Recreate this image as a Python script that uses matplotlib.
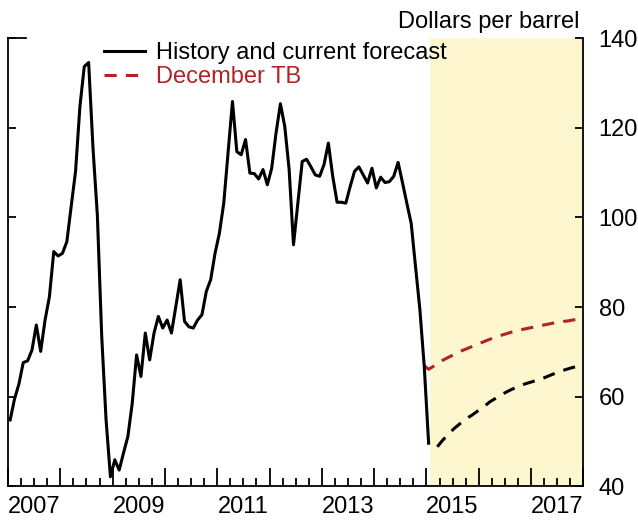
"""
Brent oil price: history and current forecast vs December TB
"""

import numpy as np
import pandas as pd
import matplotlib
matplotlib.use('Agg')
import matplotlib.pyplot as plt
from matplotlib.ticker import MultipleLocator

plt.rcParams['font.family'] = ['Liberation Sans', 'DejaVu Sans']

# monthly history, Jan 2007 .. Jan 2015 (dollars per barrel)
hist_start = '2007-01'
hist_vals = [
    54.8, 59.5, 62.8, 67.6, 68.0, 70.4, 76.0, 70.1, 77.1, 82.3, 92.4, 91.4,      # 2007
    92.0, 94.6, 102.5, 110.3, 124.8, 133.7, 134.6, 115.5, 100.5, 73.5, 54.8, 42.1,  # 2008
    45.9, 43.6, 47.4, 51.1, 58.5, 69.3, 64.5, 74.2, 68.2, 74.2, 77.9, 75.3,      # 2009
    77.1, 74.2, 80.1, 86.1, 76.8, 75.6, 75.3, 77.1, 78.3, 83.5, 86.1, 92.0,      # 2010
    96.5, 103.2, 114.6, 125.9, 114.7, 114.0, 117.4, 109.9, 109.8, 108.6, 110.7, 107.3,  # 2011
    111.0, 118.9, 125.4, 120.3, 110.7, 93.9, 103.2, 112.5, 113.0, 111.3, 109.5, 109.2,  # 2012
    111.8, 116.6, 109.2, 103.4, 103.4, 103.2, 106.9, 110.3, 111.3, 109.5, 107.7, 111.0,  # 2013
    106.6, 109.0, 107.8, 108.0, 109.2, 112.3, 107.8, 103.2, 98.7, 89.0, 79.4, 66.7,  # 2014
    49.6,                                                                         # 2015
]

# current forecast, Mar 2015 .. Dec 2017
fcst_start = '2015-03'
fcst_vals = [
    48.8, 50.0, 51.1, 52.1, 53.0, 53.8, 54.6, 55.3, 55.9, 56.6,
    57.3, 58.0, 58.8, 59.4, 60.0, 60.6, 61.1, 61.6, 62.0, 62.4, 62.8, 63.1,
    63.4, 63.7, 64.0, 64.4, 64.8, 65.2, 65.6, 65.9, 66.2, 66.5, 66.7, 66.9,
]

# December TB path, Dec 2014 .. Dec 2017
dectb_start = '2014-12'
dectb_vals = [
    66.9,
    66.1, 66.7, 67.4, 68.0, 68.5, 69.0, 69.5, 70.0, 70.4, 70.8, 71.2, 71.6,
    72.0, 72.4, 72.8, 73.1, 73.5, 73.8, 74.1, 74.4, 74.6, 74.9, 75.1, 75.3,
    75.5, 75.7, 75.9, 76.1, 76.3, 76.5, 76.6, 76.8, 76.9, 77.1, 77.2, 77.3,
]

shade_start = 2015.07
x_range = (2007, 2018)
y_range = (40, 140)
label_years = [2007, 2009, 2011, 2013, 2015, 2017]

RED = '#b22222'
SHADE = '#fdf6cf'


def month_x(start, n):
    """mid-month positions in decimal years"""
    d = pd.date_range(start, periods=n, freq='MS')
    return d.year + (d.month - 0.5) / 12.0


hist_x = month_x(hist_start, len(hist_vals))
fcst_x = month_x(fcst_start, len(fcst_vals))
dectb_x = month_x(dectb_start, len(dectb_vals))

fig = plt.figure(figsize=(6.38, 5.2), dpi=100)
ax = fig.add_axes([0.01254, 0.065, 0.9018, 0.8613])

ax.axvspan(shade_start, x_range[1], color=SHADE, lw=0, zorder=0)

ax.plot(hist_x, hist_vals, color='black', lw=2.2, zorder=3,
        label='History and current forecast')
ax.plot(fcst_x, fcst_vals, color='black', lw=2.2, dashes=(4, 3), zorder=3)
ax.plot(dectb_x, dectb_vals, color=RED, lw=2.2, dashes=(4, 3), zorder=2,
        label='December TB')

ax.set_xlim(*x_range)
ax.set_ylim(*y_range)

# spines: no top
ax.spines['top'].set_visible(False)
for s in ('left', 'right', 'bottom'):
    ax.spines[s].set_linewidth(1.3)

# x ticks: years major, quarters minor, labels mid-year
ax.xaxis.set_major_locator(MultipleLocator(1))
ax.xaxis.set_minor_locator(MultipleLocator(0.25))
ax.tick_params(axis='x', which='major', direction='in', length=12.7, width=1.3,
               labelbottom=False)
ax.tick_params(axis='x', which='minor', direction='in', length=6, width=1.3)
for yr in label_years:
    ax.text(yr + 0.5, -0.022, str(yr), transform=ax.get_xaxis_transform(),
            ha='center', va='top', fontsize=17)

# y ticks on both sides, labels right
ax.yaxis.set_major_locator(MultipleLocator(20))
ax.tick_params(axis='y', which='major', direction='in', length=6, width=1.3,
               left=True, right=True, labelleft=False, labelright=True,
               labelsize=17, pad=11)
ax.plot([0, 0.032], [1, 1], transform=ax.transAxes, color='black', lw=1.3,
        clip_on=False)

fig.text(0.909, 0.9456, 'Dollars per barrel', ha='right', va='baseline', fontsize=17)

leg = ax.legend(loc='upper left', bbox_to_anchor=(0.167, 0.992), frameon=False,
                fontsize=17, handlelength=1.74, handletextpad=0.47,
                labelspacing=0.08, borderpad=0, borderaxespad=0)
leg.get_texts()[1].set_color(RED)

fig.savefig('out.png', dpi=100)
